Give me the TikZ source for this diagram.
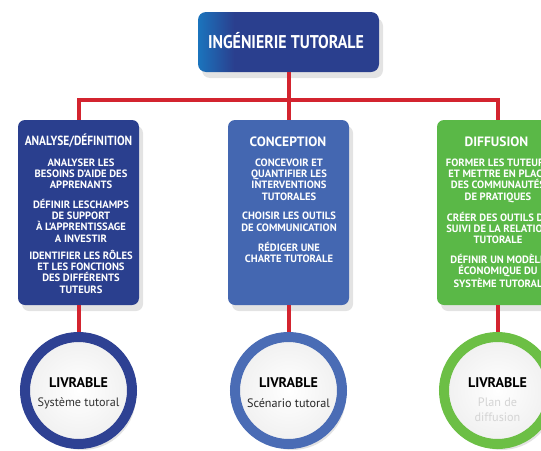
\documentclass[tikz,border=0pt]{standalone}
\usepackage{fontspec}
\setmainfont{PT Sans}
\newfontfamily\condfont[FakeStretch=0.86]{PT Sans}
\usepackage{tikz}
\usepackage{xcolor}
\usetikzlibrary{positioning, calc, shadows}

\definecolor{navy}{HTML}{2A3F8E}
\definecolor{topblue}{HTML}{1B74BD}
\definecolor{midblue}{HTML}{4467B1}
\definecolor{leaf}{HTML}{5AB847}
\definecolor{ringnavy}{HTML}{2E4193}
\definecolor{ringblue}{HTML}{4A6CB5}
\definecolor{ringgreen}{HTML}{6CBF45}
\definecolor{linkred}{HTML}{D3242F}
\definecolor{faded}{HTML}{D4D4D4}

\pgfdeclarehorizontalshading{topfade}{100bp}{color(0bp)=(topblue); color(25bp)=(topblue); color(35bp)=(navy); color(100bp)=(navy)}

\begin{document}
\begin{tikzpicture}[x=1pt, y=-1pt,
    link/.style={linkred, line width=4pt},
    boxshadow/.style={drop shadow={opacity=0.22, shadow xshift=4pt, shadow yshift=-6pt}},
    phase/.style={rounded corners=7pt, minimum width=121pt, minimum height=185pt, inner sep=0pt, boxshadow},
    phasehead/.style={anchor=base, text=white, font=\bfseries\fontsize{13.5}{15}\selectfont, inner sep=0pt},
    phasetext/.style={anchor=north, text=white, align=center, font=\bfseries\fontsize{10.6}{11.3}\selectfont, inner sep=0pt},
    deliv/.style={circle, line width=10pt, minimum size=107pt, inner sep=0pt, shading=radial, inner color=white, outer color=gray!12, boxshadow},
    delivhead/.style={font=\bfseries\fontsize{14}{16}\selectfont, inner sep=0pt},
    delivtext/.style={align=center, font=\fontsize{12.2}{14.5}\selectfont, inner sep=0pt}
]
\useasboundingbox (0,0) rectangle (541,450);

% Top of the tree
\node[rounded corners=8pt, minimum width=181pt, minimum height=60pt, shading=topfade, boxshadow] (top) at (288.5,42) {};
\node[text=white, font=\condfont\bfseries\fontsize{18.5}{20}\selectfont, inner sep=0pt] (toptitle) at (286,41) {INGÉNIERIE TUTORALE};

% Analyse
\node[phase, fill=navy] (ana) at (78.5,212.5) {};
\node[phasehead, font=\condfont\bfseries\fontsize{13.3}{15}\selectfont] (anahead) at (78.5,145.5) {ANALYSE/DÉFINITION};
\node[phasetext] (anatext) at (81,158.5) {ANALYSER LES\\BESOINS D’AIDE DES\\APPRENANTS\\[8pt]
DÉFINIR LESCHAMPS\\DE SUPPORT\\À L’APPRENTISSAGE\\A INVESTIR\\[6pt]
IDENTIFIER LES RÔLES\\ET LES FONCTIONS\\DES DIFFÉRENTS\\TUTEURS};

% Conception
\node[phase, fill=midblue] (conc) at (288.5,212.5) {};
\node[phasehead] (conchead) at (288,146) {CONCEPTION};
\node[phasetext] (conctext) at (289,158.5) {CONCEVOIR ET\\QUANTIFIER LES\\INTERVENTIONS\\TUTORALES\\[8.5pt]
CHOISIR LES OUTILS\\DE COMMUNICATION\\[8.5pt]
RÉDIGER UNE\\CHARTE TUTORALE};

% Diffusion
\node[phase, fill=leaf] (diff) at (497.5,212.5) {};
\node[phasehead] (diffhead) at (496.5,146) {DIFFUSION};
\node[phasetext] (difftext) at (498,158.5) {FORMER LES TUTEURS\\ET METTRE EN PLACE\\DES COMMUNAUTÉS\\DE PRATIQUES\\[8.5pt]
CRÉER DES OUTILS DE\\SUIVI DE LA RELATION\\TUTORALE\\[8.5pt]
DÉFINIR UN MODÈLE\\ÉCONOMIQUE DU\\SYSTÈME TUTORAL};

% Livrables
\node[deliv, draw=ringnavy] (anaout) at (78.5,390.5) {};
\node[delivhead] (anaoutA) at (78.5,383) {LIVRABLE};
\node[delivtext, text=black!80] (anaoutB) at (78.5,403) {Système tutoral};

\node[deliv, draw=ringblue] (concout) at (288.5,390.5) {};
\node[delivhead] (concoutA) at (288.5,383) {LIVRABLE};
\node[delivtext, text=black!85] (concoutB) at (288.5,403) {Scénario tutoral};

\node[deliv, draw=ringgreen] (diffout) at (497.5,390.5) {};
\node[delivhead] (diffoutA) at (497.5,383) {LIVRABLE};
\node[delivtext, text=faded] (diffoutB) at (497.5,409.5) {Plan de\\diffusion};

% Red links
\coordinate (bar) at ($(top.south)+(0,28)$);
\draw[link] (top.south) -- (conc.north);
\draw[link] (ana.north) |- (bar) -| (diff.north);
\draw[link] (ana.south) -- (anaout.north);
\draw[link] (conc.south) -- (concout.north);
\draw[link] (diff.south) -- (diffout.north);
\end{tikzpicture}
\end{document}
